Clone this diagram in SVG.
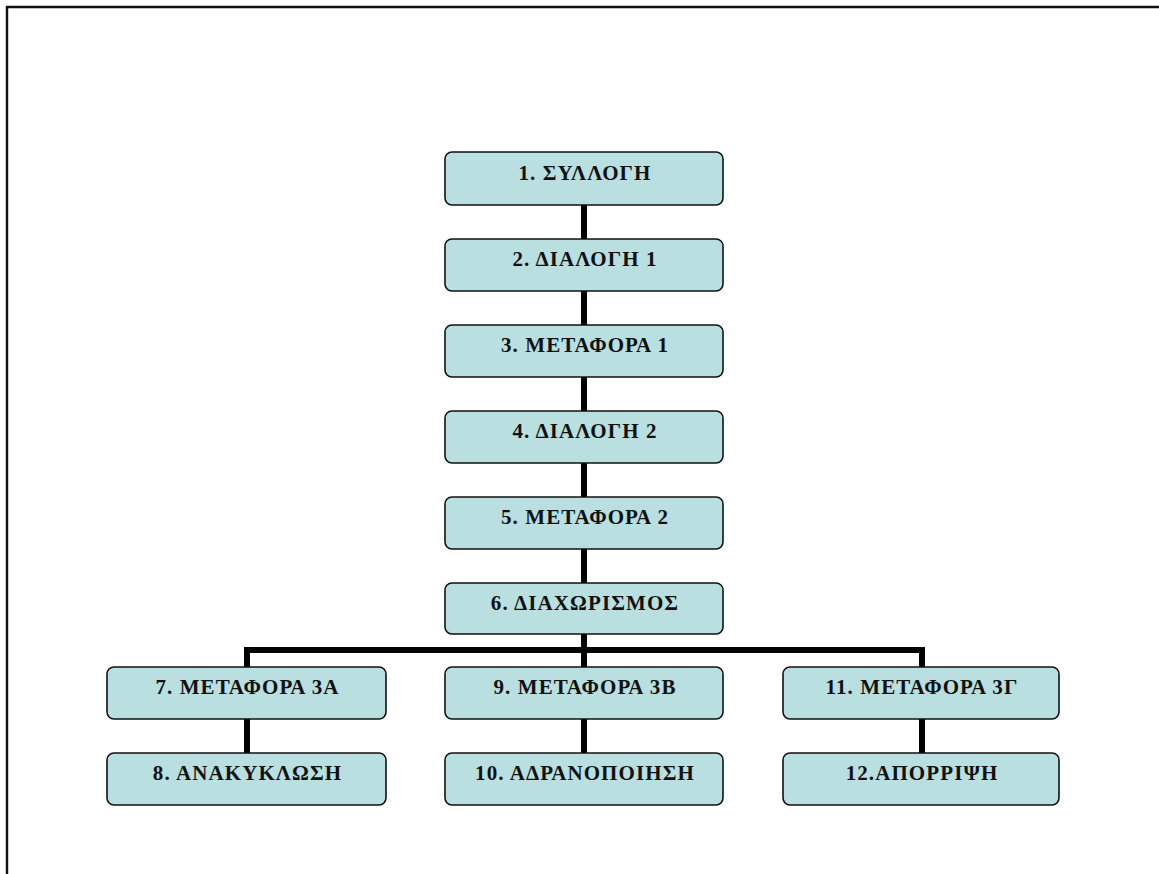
<svg xmlns="http://www.w3.org/2000/svg" width="1159" height="874" viewBox="0 0 1159 874">
<style>
.box{fill:#b9dfe1;stroke:#111;stroke-width:1.6}
.lbl{font-family:"Liberation Serif","Times New Roman",serif;font-weight:bold;font-size:21px;letter-spacing:1.1px;fill:#111;text-anchor:middle}
.conn{stroke:#000;stroke-width:6;fill:none}
</style>
<rect width="1159" height="874" fill="#fff"/>
<path d="M7 874 V7 H1159" fill="none" stroke="#111" stroke-width="2.4"/>
<g id="connectors">
<line class="conn" x1="584" y1="205" x2="584" y2="239"/>
<line class="conn" x1="584" y1="291" x2="584" y2="325"/>
<line class="conn" x1="584" y1="377" x2="584" y2="411"/>
<line class="conn" x1="584" y1="463" x2="584" y2="497"/>
<line class="conn" x1="584" y1="549" x2="584" y2="583"/>
<line class="conn" x1="584" y1="634" x2="584" y2="667"/>
<path class="conn" d="M247 667 V650 H922 V667"/>
<line class="conn" x1="247" y1="719" x2="247" y2="753"/>
<line class="conn" x1="584" y1="719" x2="584" y2="753"/>
<line class="conn" x1="922" y1="719" x2="922" y2="753"/>
</g>
<g id="n1"><rect class="box" x="445" y="152" width="278" height="53" rx="7"/><text class="lbl" x="585" y="180">1. ΣΥΛΛΟΓΗ</text></g>
<g id="n2"><rect class="box" x="445" y="239" width="278" height="52" rx="7"/><text class="lbl" x="585" y="266">2. ΔΙΑΛΟΓΗ 1</text></g>
<g id="n3"><rect class="box" x="445" y="325" width="278" height="52" rx="7"/><text class="lbl" x="585" y="352">3. ΜΕΤΑΦΟΡΑ 1</text></g>
<g id="n4"><rect class="box" x="445" y="411" width="278" height="52" rx="7"/><text class="lbl" x="585" y="438">4. ΔΙΑΛΟΓΗ 2</text></g>
<g id="n5"><rect class="box" x="445" y="497" width="278" height="52" rx="7"/><text class="lbl" x="585" y="524">5. ΜΕΤΑΦΟΡΑ 2</text></g>
<g id="n6"><rect class="box" x="445" y="583" width="278" height="51" rx="7"/><text class="lbl" x="585" y="610">6. ΔΙΑΧΩΡΙΣΜΟΣ</text></g>
<g id="n7"><rect class="box" x="107" y="667" width="279" height="52" rx="7"/><text class="lbl" x="247.5" y="694">7. ΜΕΤΑΦΟΡΑ 3Α</text></g>
<g id="n9"><rect class="box" x="445" y="667" width="278" height="52" rx="7"/><text class="lbl" x="585" y="694">9. ΜΕΤΑΦΟΡΑ 3Β</text></g>
<g id="n11"><rect class="box" x="783" y="667" width="276" height="52" rx="7"/><text class="lbl" x="922" y="694">11. ΜΕΤΑΦΟΡΑ 3Γ</text></g>
<g id="n8"><rect class="box" x="107" y="753" width="279" height="52" rx="7"/><text class="lbl" x="247.5" y="780">8. ΑΝΑΚΥΚΛΩΣΗ</text></g>
<g id="n10"><rect class="box" x="445" y="753" width="278" height="52" rx="7"/><text class="lbl" x="585" y="780">10. ΑΔΡΑΝΟΠΟΙΗΣΗ</text></g>
<g id="n12"><rect class="box" x="783" y="753" width="276" height="52" rx="7"/><text class="lbl" x="922" y="780">12.ΑΠΟΡΡΙΨΗ</text></g>
</svg>
